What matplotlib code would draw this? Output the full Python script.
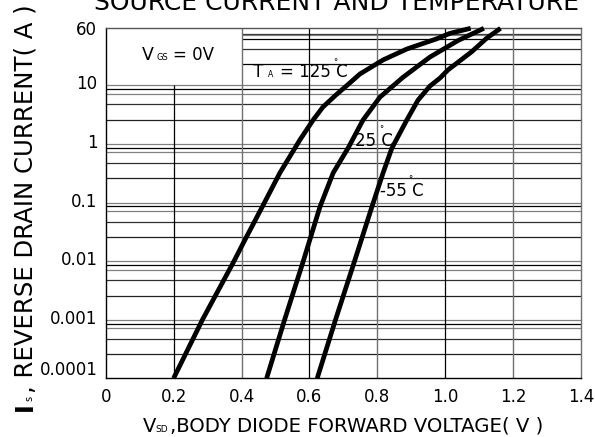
import numpy as np
import matplotlib
matplotlib.use("Agg")
import matplotlib.pyplot as plt
from matplotlib.transforms import ScaledTranslation

plt.rcParams["font.family"] = ["DejaVu Sans"]

# ---------------- data ----------------
x_ticks = [0, 0.2, 0.4, 0.6, 0.8, 1.0, 1.2, 1.4]
x_tick_labels = ["0", "0.2", "0.4", "0.6", "0.8", "1.0", "1.2", "1.4"]
y_ticks = [60, 10, 1, 0.1, 0.01, 0.001, 0.0001]
y_tick_labels = ["60", "10", "1", "0.1", "0.01", "0.001", "0.0001"]

vsd_125 = [0.200, 0.285, 0.378, 0.410, 0.461, 0.513, 0.572, 0.611, 0.640, 0.678,
           0.711, 0.749, 0.817, 0.887, 0.973, 1.014, 1.075]
is_125 = [1e-4, 1e-3, 1e-2, 0.023, 0.084, 0.32, 1.17, 2.56, 4.27, 6.83,
          10.0, 14.3, 22.2, 31.3, 42.8, 51.2, 60.0]

vsd_25 = [0.474, 0.527, 0.582, 0.631, 0.670, 0.714, 0.758, 0.808, 0.876, 0.955,
          1.038, 1.114]
is_25 = [1e-4, 1e-3, 1e-2, 0.084, 0.32, 0.85, 2.56, 6.3, 12.9, 24.3,
         40.9, 60.0]

vsd_m55 = [0.623, 0.677, 0.733, 0.784, 0.817, 0.843, 0.887, 0.920, 0.955, 0.985,
           1.008, 1.078, 1.122, 1.163]
is_m55 = [1e-4, 1e-3, 1e-2, 0.084, 0.32, 0.85, 2.56, 5.6, 9.7, 12.6,
          16.2, 28.7, 43.9, 60.0]

# grid levels of the chart
decade_levels = [10, 1, 0.1, 0.01, 0.001]
sub_factors = [1.0, 0.855, 0.716, 0.474, 0.258]
top_levels = [50.1, 48.6, 42.8, 31.0, 19.3]

# ---------------- figure ----------------
W, H = 595, 437
fig = plt.figure(figsize=(W / 100, H / 100), dpi=100)
L, R, T, B = 105.7, 581.0, 28.3, 378.3
ax = fig.add_axes([L / W, 1 - B / H, (R - L) / W, (B - T) / H])

K = 0.973 / np.log10(6.0)


def fwd(y):
    ly = np.log10(np.clip(np.asarray(y, float), 1e-30, None))
    return np.where(ly <= 1, ly, 1 + K * (ly - 1))


def inv(u):
    u = np.asarray(u, float)
    return np.where(u <= 1, 10.0 ** u, 10.0 ** (1 + (u - 1) / K))


ax.set_yscale("function", functions=(fwd, inv))
ax.set_xlim(0, 1.4)
ax.set_ylim(1e-4, 60)

# horizontal grid
sub_colors = ["#808080", "#000000", "#808080", "#303030", "#202020"]
for d in decade_levels:
    for f, c in zip(sub_factors, sub_colors):
        ax.axhline(d * f, color=c, lw=0.9, zorder=1)
ax.hlines(top_levels, 0.4, 1.4,
          colors=["#303030", "#808080", "#000000", "#303030", "#000000"],
          lw=0.9, zorder=1)
# vertical grid
ax.vlines(0.2, 1e-4, 10, color="black", lw=0.9, zorder=1)
ax.vlines([0.6, 1.0], 1e-4, 60, color="black", lw=0.9, zorder=1)
ax.vlines([0.4, 0.8, 1.2], 1e-4, 60, color="#707070", lw=1.0, zorder=1)

for s, c in [("left", "black"), ("bottom", "black"), ("top", "#555555"), ("right", "#707070")]:
    ax.spines[s].set_color(c)
    ax.spines[s].set_linewidth(1.0)

# curves
for v, i in [(vsd_125, is_125), (vsd_25, is_25), (vsd_m55, is_m55)]:
    ax.plot(v, i, color="black", lw=3.4, solid_capstyle="butt",
            solid_joinstyle="round", clip_on=False, zorder=3)

# ticks
ax.set_xticks(x_ticks, x_tick_labels)
ax.set_yticks(y_ticks, y_tick_labels)
ax.minorticks_off()
ax.tick_params(length=0, labelsize=12)
ax.tick_params(axis="x", pad=7)
ax.tick_params(axis="y", pad=6)
y_shift_px = [0, 3, 3, 3, 3, 3, 10]
for lab, dy in zip(ax.get_yticklabels(), y_shift_px):
    lab.set_transform(lab.get_transform() + ScaledTranslation(0, dy / 100, fig.dpi_scale_trans))


def fx(x):
    return x / W


def fy(y):
    return 1 - y / H


txt = dict(ha="left", va="baseline")

# title (cut at top)
fig.text(fx(336.5), fy(10), "SOURCE CURRENT AND TEMPERATURE", ha="center",
         va="baseline", fontsize=18)

# y label
rot = dict(rotation=90, rotation_mode="anchor", ha="left", va="baseline")
fig.text(fx(32), fy(411), "I", fontsize=17, fontweight="bold", **rot)
fig.text(fx(32), fy(401), "s", fontsize=7, **rot)
fig.text(fx(32), fy(393), ", REVERSE DRAIN CURRENT( A )", fontsize=17.6, **rot)

# x label
fig.text(fx(143), fy(431.5), "V", fontsize=14, **txt)
fig.text(fx(155.5), fy(431.5), "SD", fontsize=6.5, **txt)
fig.text(fx(170), fy(431.5), ",BODY DIODE FORWARD VOLTAGE( V )", fontsize=14.2, **txt)

# V_GS = 0V
fig.text(fx(141.7), fy(60), "V", fontsize=12.5, **txt)
fig.text(fx(156.5), fy(60), "GS", fontsize=6, **txt)
fig.text(fx(172.7), fy(60), "= 0V", fontsize=12, **txt)

# T_A = 125 C
fig.text(fx(252.7), fy(77.3), "T", fontsize=12, **txt)
fig.text(fx(267.5), fy(77.3), "A", fontsize=5.5, **txt)
fig.text(fx(280), fy(77.3), "= 125 C", fontsize=12, **txt)
fig.text(fx(335), fy(65.5), "°", ha="center", va="baseline", fontsize=6)

# 25 C
fig.text(fx(355), fy(145.7), "25 C", fontsize=12, **txt)
fig.text(fx(381), fy(132.5), "°", ha="center", va="baseline", fontsize=6)

# -55 C
fig.text(fx(380), fy(195.7), "-55 C", fontsize=12, **txt)
fig.text(fx(410), fy(182), "°", ha="center", va="baseline", fontsize=6)

fig.savefig("out.png", dpi=100)
